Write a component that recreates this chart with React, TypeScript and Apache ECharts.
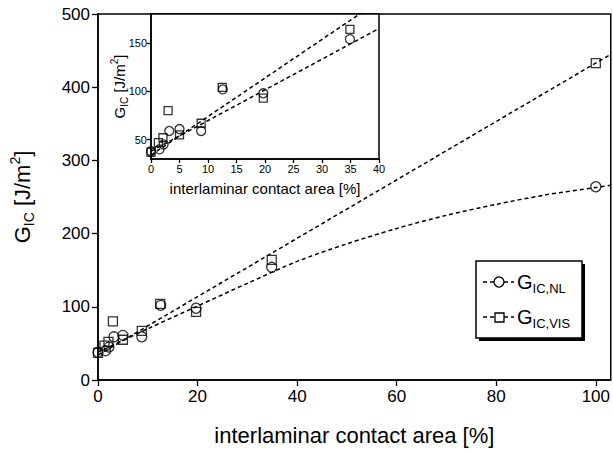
import React, { useEffect, useRef } from "react";
import * as echarts from "echarts";

// measured data (NL = circles, VIS = squares)
const nlX = [0, 1.5, 2.2, 3.2, 5.0, 8.8, 12.6, 19.7, 34.9, 100];
const nlY = [38, 40, 45, 59, 61, 59, 102, 98, 154, 264];
const visX = [0, 1.3, 2.1, 3.0, 5.0, 8.8, 12.5, 19.7, 34.9, 100];
const visY = [37, 47, 52, 80, 55, 67, 104, 93, 164, 433];

// fitted curves
const nlFitX = [0, 10, 20, 30, 40, 50, 60, 70, 80, 90, 100, 103];
const nlFitY = [38, 70, 101, 132, 162, 186, 207, 225, 240, 253, 263, 266];
const visFitX = [0, 103];
const visFitY = [34, 445];
const nlInsetFitX = [0, 40];
const nlInsetFitY = [38, 165];

const mainXTicks = [0, 20, 40, 60, 80, 100];
const mainYTicks = [0, 100, 200, 300, 400, 500];
const insetXTicks = [0, 5, 10, 15, 20, 25, 30, 35, 40];
const insetYTicks = [50, 100, 150];

const FONT = "Liberation Sans, Arial, Helvetica, sans-serif";

const pairs = (xs: number[], ys: number[]) => xs.map((x, i) => [x, ys[i]]);

export default function App() {
  const ref = useRef<HTMLDivElement>(null);
  useEffect(() => {
    if (!ref.current) return;
    const chart = echarts.init(ref.current, undefined, { renderer: "svg" });
    const black = "#000";
    const axisCommon = (big: boolean) => ({
      axisLine: { show: true, onZero: false, lineStyle: { color: black, width: 1.5 } },
      axisTick: { show: true, inside: false, length: big ? 6 : 4, lineStyle: { color: black, width: 1.3 } },
      splitLine: { show: false },
      axisLabel: { color: black, fontFamily: FONT, fontSize: big ? 17 : 11, margin: big ? 8 : 4 },
    });
    const richMain = (size: number, sub: number, lh: number) => ({
      g: { fontSize: size, fontFamily: FONT, color: black, lineHeight: lh, verticalAlign: "middle" as const },
      sub: { fontSize: sub, fontFamily: FONT, color: black, lineHeight: lh, verticalAlign: "bottom" as const },
      sup: { fontSize: sub, fontFamily: FONT, color: black, lineHeight: lh, verticalAlign: "top" as const },
    });
    const yName = "{g|G}{sub|IC}{g| [J/m}{sup|2}{g|]}";
    const dashed = { type: [4, 3] as number[], color: black, width: 1.5 };
    const scatterStyle = { color: "rgba(0,0,0,0)", borderColor: black, borderWidth: 1.3 };

    const legendText = (t: string) => `{g|G}{sub|${t}}`;

    chart.setOption({
      animation: false,
      backgroundColor: "#fff",
      grid: [
        { left: 98, top: 14, width: 513, height: 366, show: true, borderColor: black, borderWidth: 1.5, backgroundColor: "transparent" },
        { left: 151, top: 14, width: 228, height: 145, show: true, borderColor: black, borderWidth: 1.5, backgroundColor: "#fff", z: 5 },
      ],
      xAxis: [
        {
          type: "value", gridIndex: 0, min: 0, max: 103, ...axisCommon(true),
          axisTick: { ...axisCommon(true).axisTick, customValues: mainXTicks },
          axisLabel: { ...axisCommon(true).axisLabel, customValues: mainXTicks },
          name: "interlaminar contact area [%]", nameLocation: "middle", nameGap: 44,
          nameTextStyle: { fontFamily: FONT, fontSize: 22, color: black },
        },
        {
          type: "value", gridIndex: 1, min: 0, max: 40, interval: 5, ...axisCommon(false),
          axisTick: { ...axisCommon(false).axisTick, customValues: insetXTicks },
          axisLabel: { ...axisCommon(false).axisLabel, customValues: insetXTicks },
          name: "interlaminar contact area [%]", nameLocation: "middle", nameGap: 22,
          nameTextStyle: { fontFamily: FONT, fontSize: 15, color: black },
          z: 6,
        },
      ],
      yAxis: [
        {
          type: "value", gridIndex: 0, min: 0, max: 500, interval: 100, ...axisCommon(true),
          axisTick: { ...axisCommon(true).axisTick, customValues: mainYTicks },
          axisLabel: { ...axisCommon(true).axisLabel, customValues: mainYTicks },
          name: yName, nameLocation: "middle", nameGap: 62, nameRotate: 90,
          nameTextStyle: { rich: richMain(22, 14, 28) },
        },
        {
          type: "value", gridIndex: 1, min: 30, max: 180, ...axisCommon(false),
          axisTick: { ...axisCommon(false).axisTick, customValues: insetYTicks },
          axisLabel: { ...axisCommon(false).axisLabel, customValues: insetYTicks },
          name: yName, nameLocation: "middle", nameGap: 22, nameRotate: 90, nameMoveOverlap: false,
          nameTextStyle: { rich: richMain(15, 10, 20) },
          z: 6,
        },
      ],
      series: [
        { type: "line", xAxisIndex: 0, yAxisIndex: 0, data: pairs(nlFitX, nlFitY), smooth: 0.3, showSymbol: false, lineStyle: dashed, silent: true },
        { type: "line", xAxisIndex: 0, yAxisIndex: 0, data: pairs(visFitX, visFitY), showSymbol: false, lineStyle: dashed, silent: true },
        { type: "scatter", xAxisIndex: 0, yAxisIndex: 0, data: pairs(nlX, nlY), symbol: "circle", symbolSize: 10, itemStyle: scatterStyle },
        { type: "scatter", xAxisIndex: 0, yAxisIndex: 0, data: pairs(visX, visY), symbol: "rect", symbolSize: 9, itemStyle: scatterStyle },
        { type: "line", xAxisIndex: 1, yAxisIndex: 1, data: pairs(nlInsetFitX, nlInsetFitY), showSymbol: false, lineStyle: dashed, clip: true, silent: true, z: 7 },
        { type: "line", xAxisIndex: 1, yAxisIndex: 1, data: pairs(visFitX, visFitY), showSymbol: false, lineStyle: dashed, clip: true, silent: true, z: 7 },
        { type: "scatter", xAxisIndex: 1, yAxisIndex: 1, data: pairs(nlX, nlY), symbol: "circle", symbolSize: 9, itemStyle: scatterStyle, clip: true, z: 7 },
        { type: "scatter", xAxisIndex: 1, yAxisIndex: 1, data: pairs(visX, visY), symbol: "rect", symbolSize: 8, itemStyle: scatterStyle, clip: true, z: 7 },
      ],
      graphic: [
        { type: "rect", shape: { x: 479, y: 264, width: 106, height: 77 }, style: { fill: black }, z: 10 },
        { type: "rect", shape: { x: 476, y: 261, width: 106, height: 77 }, style: { fill: "#fff", stroke: black, lineWidth: 1.5 }, z: 11 },
        { type: "line", shape: { x1: 483, y1: 282, x2: 514, y2: 282 }, style: { stroke: black, lineWidth: 1.3, lineDash: [4, 3] }, z: 12 },
        { type: "circle", shape: { cx: 499, cy: 282, r: 5 }, style: { fill: "#fff", stroke: black, lineWidth: 1.3 }, z: 13 },
        { type: "text", x: 517, y: 282, style: { text: legendText("IC,NL"), rich: richMain(20, 13, 26), verticalAlign: "middle", align: "left" }, z: 13 },
        { type: "line", shape: { x1: 483, y1: 317, x2: 514, y2: 317 }, style: { stroke: black, lineWidth: 1.3, lineDash: [4, 3] }, z: 12 },
        { type: "rect", shape: { x: 495, y: 313, width: 9, height: 9 }, style: { fill: "#fff", stroke: black, lineWidth: 1.3 }, z: 13 },
        { type: "text", x: 517, y: 317, style: { text: legendText("IC,VIS"), rich: richMain(20, 13, 26), verticalAlign: "middle", align: "left" }, z: 13 },
      ],
    });
    return () => chart.dispose();
  }, []);
  return <div ref={ref} style={{ width: 613, height: 454, position: "absolute", left: 0, top: 0 }} />;
}
